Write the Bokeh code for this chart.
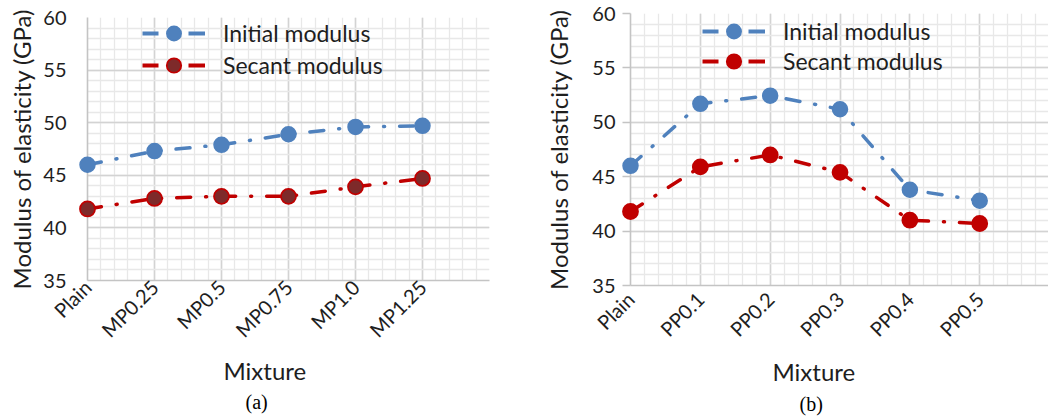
import math
from bokeh.plotting import figure
from bokeh.layouts import row, column
from bokeh.models import (Range1d, SingleIntervalTicker, Legend, LegendItem, Title,
                          ColumnDataSource)
from bokeh.embed import file_html
from bokeh.resources import INLINE

# ---------------- data ----------------
cats_a = ["Plain", "MP0.25", "MP0.5", "MP0.75", "MP1.0", "MP1.25"]
initial_a = [46.0, 47.3, 47.9, 48.9, 49.6, 49.7]
secant_a = [41.8, 42.8, 43.0, 43.0, 43.9, 44.7]

cats_b = ["Plain", "PP0.1", "PP0.2", "PP0.3", "PP0.4", "PP0.5"]
initial_b = [46.0, 51.7, 52.45, 51.2, 43.8, 42.8]
secant_b = [41.8, 45.9, 47.0, 45.4, 41.0, 40.7]

series_names = ["Initial modulus", "Secant modulus"]
x_title = "Mixture"
y_title = "Modulus of elasticity (GPa)"
captions = ["(a)", "(b)"]
y_min, y_max, y_step = 35, 60, 5

# ---------------- style ----------------
BLUE = "#4f81bd"
RED = "#c00000"
DARKRED = "#7e2a2a"
MAJOR = "#d3d3d3"
MINOR = "#e8e8e8"
AXIS = "#c4c4c4"
TXT = "#1e1e1e"
FONT = "Lato"
NAN = float("nan")


def panel(cats, init, sec, caption, *, width, left, right, top, bottom, x_end,
          sec_fill, tick_out, lab_standoff, ax_standoff, xlab_standoff,
          leg_x, leg_y, title_off, title_so, cap_off, cap_so):
    p = figure(width=width, height=420, x_range=Range1d(0, x_end),
               y_range=Range1d(y_min, y_max), output_backend="svg",
               toolbar_location=None, min_border_left=left,
               min_border_right=right, min_border_top=top,
               min_border_bottom=bottom)
    p.outline_line_color = None
    p.background_fill_color = "white"
    p.border_fill_color = "white"

    xt = SingleIntervalTicker(interval=1, num_minor_ticks=5)
    yt = SingleIntervalTicker(interval=y_step, num_minor_ticks=5)
    p.xaxis.ticker = xt
    p.yaxis.ticker = yt
    p.xgrid.ticker = xt
    p.ygrid.ticker = yt
    for g in (p.xgrid, p.ygrid):
        g.grid_line_color = MAJOR
        g.grid_line_width = 1.6
        g.minor_grid_line_color = MINOR
        g.minor_grid_line_width = 1.3

    idx = list(range(len(cats)))
    overrides = {i: c for i, c in enumerate(cats)}
    overrides[len(cats)] = ""
    p.xaxis.major_label_overrides = overrides
    p.xaxis.major_label_orientation = math.pi / 4

    for ax in (p.xaxis, p.yaxis):
        ax.axis_line_color = AXIS
        ax.axis_line_width = 1.6
        ax.minor_tick_line_color = None
        ax.major_label_text_font = FONT
        ax.major_label_text_font_size = "20px"
        ax.major_label_text_color = TXT
    p.xaxis.major_tick_line_color = None
    p.xaxis.major_label_standoff = xlab_standoff
    if tick_out:
        p.yaxis.major_tick_line_color = AXIS
        p.yaxis.major_tick_line_width = 1.6
        p.yaxis.major_tick_out = tick_out
        p.yaxis.major_tick_in = 0
    else:
        p.yaxis.major_tick_line_color = None
    p.yaxis.major_label_standoff = lab_standoff
    p.yaxis.axis_label = y_title
    p.yaxis.axis_label_text_font = FONT
    p.yaxis.axis_label_text_font_size = "24px"
    p.yaxis.axis_label_text_font_style = "normal"
    p.yaxis.axis_label_text_color = TXT
    p.yaxis.axis_label_standoff = ax_standoff

    src = ColumnDataSource(dict(x=idx, init=init, sec=sec))
    p.line("x", "init", source=src, line_color=BLUE, line_width=3.5,
           line_dash="14 15 1 15", line_cap="round")
    p.line("x", "sec", source=src, line_color=RED, line_width=3.5,
           line_dash="14 15 1 15", line_cap="round")
    s1 = p.scatter("x", "init", source=src, size=15, fill_color=BLUE,
                   line_color=BLUE, line_width=1.5, level="overlay")
    s2 = p.scatter("x", "sec", source=src, size=15, fill_color=sec_fill,
                   line_color=RED, line_width=1.8, level="overlay")

    # legend-only line samples (nothing drawn in the plot area)
    d1 = p.line(x=[NAN, NAN], y=[NAN, NAN], line_color=BLUE, line_width=4,
                line_dash="16 30 17 30")
    d2 = p.line(x=[NAN, NAN], y=[NAN, NAN], line_color=RED, line_width=4,
                line_dash="16 30 17 30")
    for name, rs, ly in ((series_names[0], [d1, s1], leg_y[0]),
                         (series_names[1], [d2, s2], leg_y[1])):
        leg = Legend(items=[LegendItem(label=name, renderers=rs)],
                     location=(leg_x, ly), glyph_width=63, glyph_height=36,
                     label_height=36, label_standoff=18, padding=0, margin=0,
                     spacing=0, border_line_color=None,
                     background_fill_alpha=0, label_text_font=FONT,
                     label_text_font_size="23px", label_text_color=TXT)
        p.add_layout(leg)

    p.add_layout(Title(text=x_title, align="left", offset=title_off,
                       text_font=FONT, text_font_size="24px",
                       standoff=title_so, text_font_style="normal",
                       text_color=TXT), "below")
    p.add_layout(Title(text=caption, align="left", offset=cap_off,
                       text_font="Liberation Serif", text_font_size="20px",
                       standoff=cap_so, text_font_style="normal",
                       text_color="black"), "below")
    return p


pa = panel(cats_a, initial_a, secant_a, captions[0], width=524, left=87,
           right=35, top=17, bottom=140, x_end=6, sec_fill=DARKRED,
           tick_out=0, lab_standoff=15, ax_standoff=4, xlab_standoff=-3,
           leg_x=55, leg_y=(229, 197), title_off=136, title_so=0,
           cap_off=158, cap_so=9)
pb = panel(cats_b, initial_b, secant_b, captions[1], width=524, left=106,
           right=0, top=13, bottom=135, x_end=5.985, sec_fill=RED,
           tick_out=8, lab_standoff=7, ax_standoff=16, xlab_standoff=4,
           leg_x=72, leg_y=(236, 206), title_off=142, title_so=4,
           cap_off=169, cap_so=6)

layout = row(column(pa), column(pb))
open("out.html", "w").write(file_html(layout, INLINE))
